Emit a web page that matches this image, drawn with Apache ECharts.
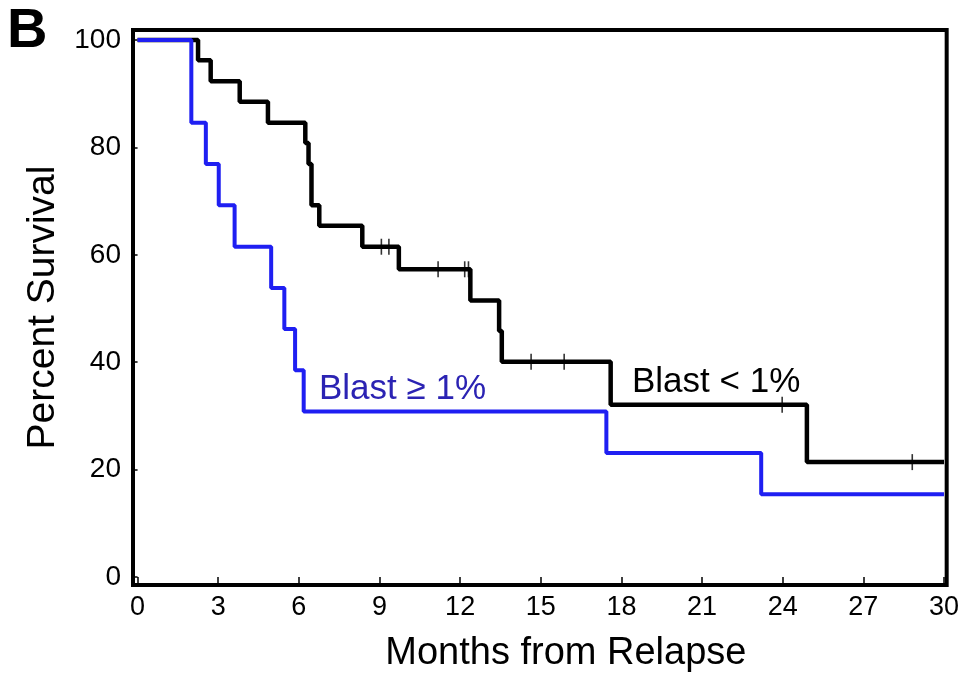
<!DOCTYPE html>
<html>
<head>
<meta charset="utf-8">
<script src="https://cdn.jsdelivr.net/npm/echarts@6/dist/echarts.min.js"></script>
<style>
  html, body { margin: 0; padding: 0; background: #fff; }
  #main { width: 962px; height: 678px; }
</style>
</head>
<body>
<div id="main"></div>
<script>
// Blast < 1% (black curve): event times and survival after each step
var lowTimes = [0, 2.25, 2.72, 3.8, 4.85, 6.24, 6.36, 6.47, 6.76, 8.36, 9.72, 12.38, 13.45, 13.55, 17.6, 24.9, 30];
var lowSurv = [100, 96.2, 92.3, 88.5, 84.6, 80.8, 76.9, 69.2, 65.4, 61.5, 57.3, 51.5, 45.8, 40.1, 32.1, 21.4, 21.4];
// censored marks on the black curve
var lowCensorTimes = [9.07, 9.35, 11.18, 12.17, 12.31, 14.64, 15.87, 23.98, 28.82];
var lowCensorSurv = [61.5, 61.5, 57.3, 57.3, 57.3, 40.1, 40.1, 32.1, 21.4];

// Blast >= 1% (blue curve)
var highTimes = [0, 2.0, 2.54, 3.02, 3.61, 4.97, 5.46, 5.86, 6.18, 17.44, 23.2, 30];
var highSurv = [100, 84.6, 76.9, 69.2, 61.5, 53.8, 46.2, 38.5, 30.8, 23.1, 15.4, 15.4];

var xTicks = [0, 3, 6, 9, 12, 15, 18, 21, 24, 27, 30];
var yTicks = [0, 20, 40, 60, 80, 100];

function zip(a, b) {
  var out = [];
  for (var i = 0; i < a.length; i++) {
    out.push([a[i], b[i]]);
  }
  return out;
}

var fontFam = '"Liberation Sans", Arial, sans-serif';
var chart = echarts.init(document.getElementById('main'));

var option = {
  animation: false,
  backgroundColor: '#fff',
  grid: {
    left: 133,
    right: 12,
    top: 30,
    bottom: 90,
    show: true,
    borderColor: '#000',
    borderWidth: 4,
    backgroundColor: 'transparent'
  },
  xAxis: {
    type: 'value',
    min: -0.17,
    max: 30.1,
    name: 'Months from Relapse',
    nameLocation: 'middle',
    nameGap: 50,
    nameTextStyle: { fontSize: 38, color: '#000', fontFamily: fontFam, padding: [0, 0, 0, 52] },
    axisLine: { show: false },
    splitLine: { show: false },
    axisTick: {
      show: true,
      length: 10,
      customValues: xTicks,
      lineStyle: { color: '#000', width: 1.5 }
    },
    axisLabel: {
      customValues: xTicks,
      fontSize: 27,
      color: '#000',
      fontFamily: fontFam,
      margin: 9
    }
  },
  yAxis: {
    type: 'value',
    min: -1.48,
    max: 101.85,
    name: 'Percent Survival',
    nameLocation: 'middle',
    nameRotate: 90,
    nameGap: 70,
    nameTextStyle: { fontSize: 39, color: '#000', fontFamily: fontFam },
    axisLine: { show: false },
    splitLine: { show: false },
    axisTick: {
      show: true,
      length: 6,
      customValues: yTicks,
      lineStyle: { color: '#000', width: 1.5 }
    },
    axisLabel: {
      customValues: yTicks,
      fontSize: 28,
      color: '#000',
      fontFamily: fontFam,
      margin: 12
    }
  },
  graphic: [
    {
      type: 'text',
      left: 7,
      top: 4,
      style: { text: 'B', font: 'bold 56px ' + fontFam, fill: '#000' }
    },
    {
      type: 'text',
      left: 319,
      top: 372,
      style: { text: 'Blast ≥ 1%', font: '35px ' + fontFam, fill: '#2b23b3' }
    },
    {
      type: 'text',
      left: 632,
      top: 365,
      style: { text: 'Blast < 1%', font: '35px ' + fontFam, fill: '#000' }
    }
  ],
  series: [
    {
      name: 'Blast < 1%',
      type: 'line',
      step: 'end',
      data: zip(lowTimes, lowSurv),
      showSymbol: false,
      symbol: 'none',
      lineStyle: { color: '#000', width: 4.5 },
      z: 3
    },
    {
      name: 'censored',
      type: 'scatter',
      data: zip(lowCensorTimes, lowCensorSurv),
      symbol: 'rect',
      symbolSize: [1.6, 16],
      itemStyle: { color: '#000' },
      z: 4
    },
    {
      name: 'Blast ≥ 1%',
      type: 'line',
      step: 'end',
      data: zip(highTimes, highSurv),
      showSymbol: false,
      symbol: 'none',
      lineStyle: { color: '#1f1ff2', width: 4 },
      z: 5
    }
  ]
};

chart.setOption(option);
</script>
</body>
</html>
